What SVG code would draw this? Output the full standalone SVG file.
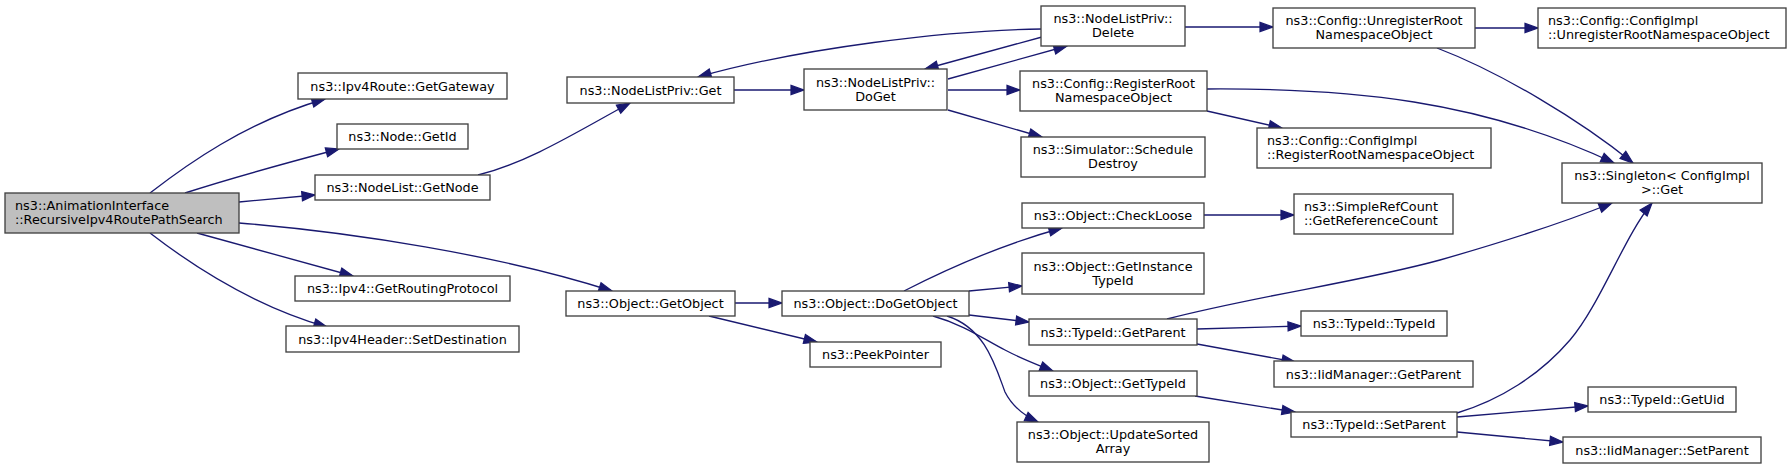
<svg xmlns="http://www.w3.org/2000/svg" width="1791" height="469" viewBox="0 0 1791 469">
<style>
.n rect{fill:#ffffff;stroke:#404040;stroke-width:1.33}
.n.m rect{fill:#bfbfbf}
.n text{font-family:"DejaVu Sans","Liberation Sans",sans-serif;font-size:12.8px;fill:#000000;text-anchor:middle}
.n text.l{text-anchor:start}
#edges path{fill:none;stroke:#191970;stroke-width:1.33;marker-end:url(#ah)}
</style>
<defs>
<marker id="ah" markerUnits="userSpaceOnUse" markerWidth="14" markerHeight="10" viewBox="0 -5 14 10" refX="13" refY="0" orient="auto" overflow="visible">
<path d="M0,-4.6 L13,0 L0,4.6 z" fill="#191970" stroke="#191970" stroke-width="1.2"/>
</marker>
</defs>
<rect x="0" y="0" width="1791" height="469" fill="#ffffff"/>
<g id="edges">
<path d="M150,193 C185,166 245,122 325,99"/>
<path d="M185,193 C225,180 290,162 339,149"/>
<path d="M239,202 L315,195"/>
<path d="M239,223 C350,232 500,255 612,291"/>
<path d="M197,233 L353,276"/>
<path d="M150,233 C185,260 250,305 327,327"/>
<path d="M478,175 C530,162 580,130 630,103"/>
<path d="M734,90 L804,90"/>
<path d="M948,79 L1067,46"/>
<path d="M1042,37 L925,69"/>
<path d="M1042,29 C950,30 800,48 698,77"/>
<path d="M1185,27 L1273,27"/>
<path d="M948,90 L1020,90"/>
<path d="M948,110 L1042,137"/>
<path d="M1475,28 L1538,28"/>
<path d="M1437,48 C1500,72 1580,120 1633,163"/>
<path d="M1207,89 C1350,88 1480,100 1614,163"/>
<path d="M1207,111 L1282,128"/>
<path d="M1204,215 L1294,215"/>
<path d="M735,303 L782,303"/>
<path d="M709,316 L817,342"/>
<path d="M904,291 C945,270 1000,245 1062,228"/>
<path d="M969,291 L1022,286"/>
<path d="M969,315 L1029,322"/>
<path d="M933,316 C965,325 985,340 1005,350 C1022,359 1038,365 1053,371"/>
<path d="M947,316 C985,328 995,365 1005,392 C1013,408 1025,416 1038,422"/>
<path d="M1167,319 C1260,295 1360,282 1440,260 C1510,240 1570,220 1612,203"/>
<path d="M1197,329 L1301,326"/>
<path d="M1197,344 L1295,362"/>
<path d="M1195,396 L1295,412"/>
<path d="M1457,413 C1500,400 1540,375 1570,340 C1600,305 1625,235 1652,203"/>
<path d="M1457,417 L1588,406"/>
<path d="M1457,432 L1563,442"/>
</g>
<g id="n0" class="n m"><rect x="5" y="193" width="234" height="40"/><text class="l" x="15" y="210">ns3::AnimationInterface</text><text class="l" x="15" y="224">::RecursiveIpv4RoutePathSearch</text></g>
<g id="n1" class="n"><rect x="298" y="73" width="209" height="26"/><text x="402.5" y="90.5">ns3::Ipv4Route::GetGateway</text></g>
<g id="n2" class="n"><rect x="337" y="124" width="131" height="25"/><text x="402.5" y="141">ns3::Node::GetId</text></g>
<g id="n3" class="n"><rect x="315" y="175" width="175" height="25"/><text x="402.5" y="192">ns3::NodeList::GetNode</text></g>
<g id="n4" class="n"><rect x="295" y="276" width="215" height="25"/><text x="402.5" y="293">ns3::Ipv4::GetRoutingProtocol</text></g>
<g id="n5" class="n"><rect x="286" y="326" width="233" height="26"/><text x="402.5" y="343.5">ns3::Ipv4Header::SetDestination</text></g>
<g id="n6" class="n"><rect x="567" y="77" width="167" height="26"/><text x="650.5" y="94.5">ns3::NodeListPriv::Get</text></g>
<g id="n7" class="n"><rect x="566" y="291" width="169" height="25"/><text x="650.5" y="308">ns3::Object::GetObject</text></g>
<g id="n8" class="n"><rect x="804" y="69" width="143" height="41"/><text x="875.5" y="86.5">ns3::NodeListPriv::</text><text x="875.5" y="100.5">DoGet</text></g>
<g id="n9" class="n"><rect x="782" y="291" width="187" height="25"/><text x="875.5" y="308">ns3::Object::DoGetObject</text></g>
<g id="n10" class="n"><rect x="810" y="342" width="131" height="25"/><text x="875.5" y="359">ns3::PeekPointer</text></g>
<g id="n11" class="n"><rect x="1041" y="6" width="144" height="40"/><text x="1113" y="23">ns3::NodeListPriv::</text><text x="1113" y="37">Delete</text></g>
<g id="n12" class="n"><rect x="1020" y="71" width="187" height="40"/><text x="1113.5" y="88">ns3::Config::RegisterRoot</text><text x="1113.5" y="102">NamespaceObject</text></g>
<g id="n13" class="n"><rect x="1021" y="137" width="184" height="40"/><text x="1113" y="154">ns3::Simulator::Schedule</text><text x="1113" y="168">Destroy</text></g>
<g id="n14" class="n"><rect x="1022" y="203" width="182" height="25"/><text x="1113" y="220">ns3::Object::CheckLoose</text></g>
<g id="n15" class="n"><rect x="1022" y="253" width="182" height="41"/><text x="1113" y="270.5">ns3::Object::GetInstance</text><text x="1113" y="284.5">TypeId</text></g>
<g id="n16" class="n"><rect x="1029" y="319" width="168" height="26"/><text x="1113" y="336.5">ns3::TypeId::GetParent</text></g>
<g id="n17" class="n"><rect x="1029" y="371" width="168" height="25"/><text x="1113" y="388">ns3::Object::GetTypeId</text></g>
<g id="n18" class="n"><rect x="1017" y="422" width="192" height="40"/><text x="1113" y="439">ns3::Object::UpdateSorted</text><text x="1113" y="453">Array</text></g>
<g id="n19" class="n"><rect x="1273" y="8" width="202" height="40"/><text x="1374" y="25">ns3::Config::UnregisterRoot</text><text x="1374" y="39">NamespaceObject</text></g>
<g id="n20" class="n"><rect x="1257" y="128" width="234" height="40"/><text class="l" x="1267" y="145">ns3::Config::ConfigImpl</text><text class="l" x="1267" y="159">::RegisterRootNamespaceObject</text></g>
<g id="n21" class="n"><rect x="1294" y="194" width="159" height="40"/><text class="l" x="1304" y="211">ns3::SimpleRefCount</text><text class="l" x="1304" y="225">::GetReferenceCount</text></g>
<g id="n22" class="n"><rect x="1301" y="311" width="146" height="25"/><text x="1374" y="328">ns3::TypeId::TypeId</text></g>
<g id="n23" class="n"><rect x="1274" y="361" width="199" height="26"/><text x="1373.5" y="378.5">ns3::IidManager::GetParent</text></g>
<g id="n24" class="n"><rect x="1291" y="412" width="166" height="25"/><text x="1374" y="429">ns3::TypeId::SetParent</text></g>
<g id="n25" class="n"><rect x="1538" y="8" width="248" height="40"/><text class="l" x="1548" y="25">ns3::Config::ConfigImpl</text><text class="l" x="1548" y="39">::UnregisterRootNamespaceObject</text></g>
<g id="n26" class="n"><rect x="1562" y="163" width="200" height="40"/><text x="1662" y="180">ns3::Singleton&lt; ConfigImpl</text><text x="1662" y="194"> &gt;::Get</text></g>
<g id="n27" class="n"><rect x="1588" y="387" width="148" height="25"/><text x="1662" y="404">ns3::TypeId::GetUid</text></g>
<g id="n28" class="n"><rect x="1563" y="437" width="198" height="26"/><text x="1662" y="454.5">ns3::IidManager::SetParent</text></g>
</svg>
